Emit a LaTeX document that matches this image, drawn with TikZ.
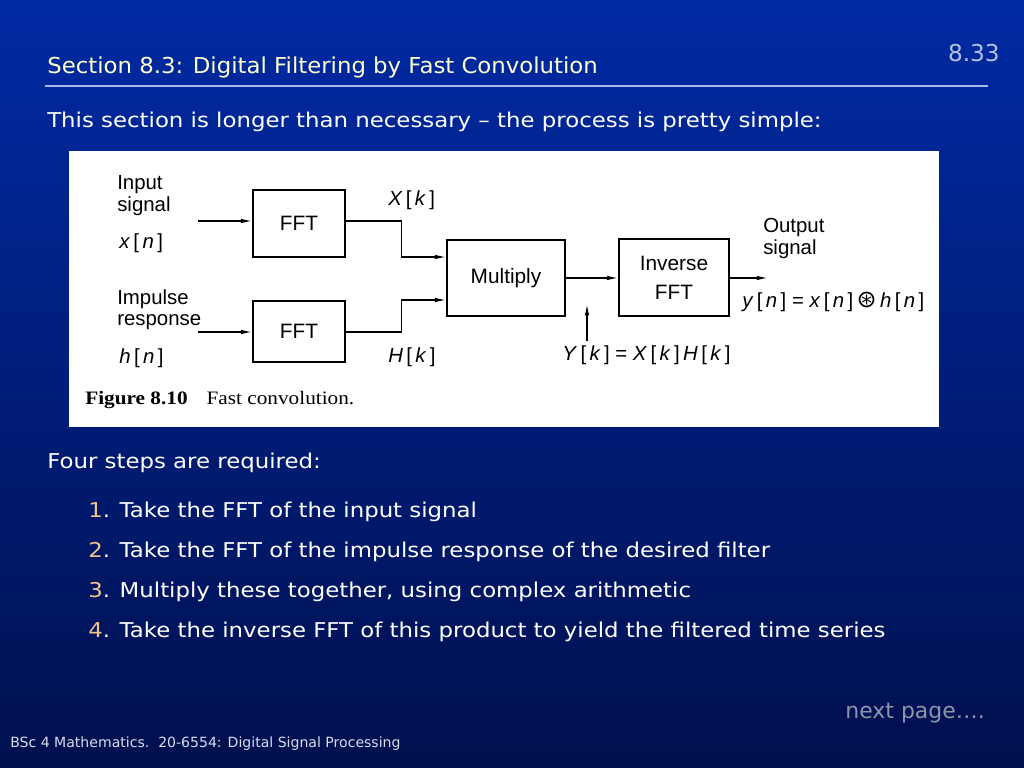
\documentclass[tikz,border=0pt]{standalone}
\usepackage{fontspec}
\setmainfont{DejaVu Sans}
\newfontfamily\bodyfont[FakeStretch=1.12]{DejaVu Sans}
\newfontfamily\titlefont[FakeStretch=1.04]{DejaVu Sans}
\newfontfamily\figsans{Liberation Sans}
\newfontfamily\figserif[FakeStretch=1.12]{Liberation Serif}
\newfontfamily\symfont{DejaVu Sans}
\usepackage{tikz}
\usetikzlibrary{arrows.meta,calc,positioning}
\definecolor{SlideTop}{HTML}{002AA4}
\definecolor{SlideBot}{HTML}{00104E}
\definecolor{TitleYellow}{HTML}{FFFFCC}
\definecolor{PageGrey}{HTML}{B4C0E0}
\definecolor{RuleBlue}{HTML}{A8B8E8}
\definecolor{StepOrange}{HTML}{F2C38A}
\definecolor{NextGrey}{HTML}{8A96AA}
\definecolor{FootGrey}{HTML}{D8DCEC}
\newcommand{\sg}[2]{\textit{#1}\,[\,\textit{#2}\,]}

\begin{document}
\begin{tikzpicture}[x=.025cm,y=-.025cm,>={Latex[length=8pt,width=3.2pt]},
 blk/.style={draw=black,line width=1.2pt,fill=white,inner sep=0pt,font=\figsans\fontsize{14.8}{15.6}\selectfont,align=center},
 sig/.style={->,line width=.9pt,draw=black},
 lbl/.style={font=\figsans\fontsize{14.5}{15.6}\selectfont,align=left,inner sep=0pt,anchor=west},
 body/.style={font=\bodyfont\fontsize{14.5}{17}\selectfont,text=white,inner sep=0pt,anchor=base west},
 every node/.style={inner sep=1pt}]
\useasboundingbox (0,0) rectangle (1024,768);
\shade[top color=SlideTop,bottom color=SlideBot] (0,0) rectangle (1024,768);
\node[body,font=\titlefont\fontsize{15.6}{18}\selectfont,text=TitleYellow] (title) at (47,74) {Section 8.3: Digital Filtering by Fast Convolution};
\node[body,anchor=base east,font=\fontsize{16.5}{18}\selectfont,text=PageGrey] (pageno) at (1000,62) {8.33};
\draw[RuleBlue,line width=.9pt] (45,86) -- (988,86);
\node[body] (intro) at (47,128) {This section is longer than necessary – the process is pretty simple:};
\fill[white] (69,151) rectangle (939,427);
\node[blk,minimum width=2.3cm,minimum height=1.675cm] (fft1) at (299,223.5) {FFT};
\node[blk,minimum width=2.3cm,minimum height=1.525cm] (fft2) at (299,331.5) {FFT};
\node[blk,minimum width=2.95cm,minimum height=1.89cm] (mult) at (506,278) {Multiply};
\node[blk,minimum width=2.75cm,minimum height=1.925cm] (ifft) at (674,277.5) {Inverse\\[5pt]FFT};
\node[lbl,anchor=north west] (insig) at (117,175) {Input\\signal};
\node[lbl] (xn) at (119,243) {\sg{x}{n}};
\node[lbl,anchor=north west] (impresp) at (117,289) {Impulse\\response};
\node[lbl] (hn) at (119,358) {\sg{h}{n}};
\node[lbl] (xk) at (388,200) {\sg{X}{k}};
\node[lbl] (hk) at (388,357) {\sg{H}{k}};
\node[lbl,anchor=north west] (outsig) at (763,218) {Output\\signal};
\node[lbl] (yn) at (742,302) {\sg{y}{n} = \sg{x}{n}\,{\symfont\fontsize{17}{17}\selectfont ⊛}\,\sg{h}{n}};
\node[lbl] (yk) at (562,355) {\sg{Y}{k} = \sg{X}{k}\,\sg{H}{k}};
\node[lbl,font=\figserif\fontsize{13.5}{15}\selectfont] (caption) at (85,400) {\textbf{Figure 8.10}\quad Fast convolution.};
\coordinate (in1) at (198,221);
\coordinate (in2) at (198,332);
\coordinate (out) at (768,278);
\coordinate (ybase) at (587,341);
\coordinate (ytip) at (587,304);
\draw[sig] (in1) -- (in1 -| fft1.west);
\draw[sig] (in2) -- (in2 -| fft2.west);
\draw[sig] (fft1.east |- in1) -- ++(56,0) |- ($(mult.west)+(0,-21)$);
\draw[sig] (fft2.east |- in2) -- ++(56,0) |- ($(mult.west)+(0,22)$);
\draw[sig] (mult) -- (mult -| ifft.west);
\draw[sig] (ifft.east |- out) -- (out);
\draw[sig] (ybase) -- (ytip);
\node[body] (steps) at (47,468) {Four steps are required:};
\foreach \n/\yy/\txt in {1/517/Take the FFT of the input signal,
 2/557/Take the FFT of the impulse response of the desired filter,
 3/597/{Multiply these together, using complex arithmetic},
 4/637/Take the inverse FFT of this product to yield the filtered time series}
 \node[body] (step\n) at (88,\yy) {\textcolor{StepOrange}{\n}. \txt};
\node[body,anchor=base east,font=\fontsize{15.6}{18}\selectfont,text=NextGrey] (next) at (985,718) {next page….};
\node[body,font=\fontsize{10}{12}\selectfont,text=FootGrey] (foot) at (10,747) {BSc 4 Mathematics.\ \ 20-6554: Digital Signal Processing};
\end{tikzpicture}
\end{document}
